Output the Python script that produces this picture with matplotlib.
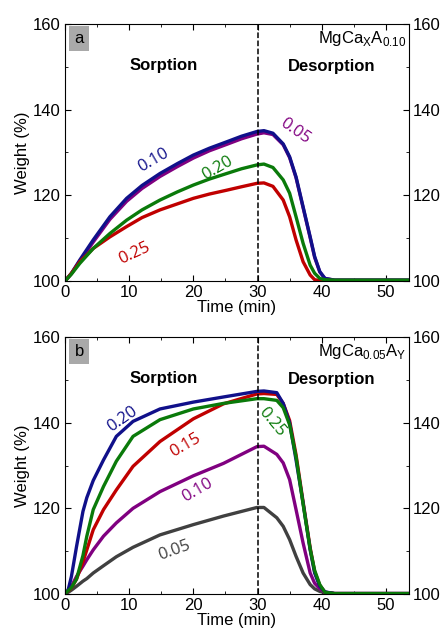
import matplotlib
matplotlib.use('Agg')
import matplotlib.pyplot as plt
from matplotlib.ticker import MultipleLocator

plt.rcParams['font.family'] = ['Liberation Sans', 'DejaVu Sans']

# panel a: MgCa_X A_0.10  (time in min, weight in %)
A_X = [0, 1, 2.3, 4.4, 7, 9.6, 12, 14.8, 17.5, 20, 22.5, 25.2, 27.5, 29.9, 31, 32.4,
       34, 35, 36, 37.1, 38.2, 38.9, 39.7, 40.5, 42, 54]
A_010 = [100, 101.8, 104.9, 109.6, 115.0, 119.3, 122.3, 125.1, 127.4, 129.4, 131.0, 132.5, 133.8, 134.9, 135.1, 134.5,
         132.0, 129.0, 124.3, 117.3, 110.3, 105.7, 102.2, 100.6, 100.2, 100.2]
A_005 = [100, 101.7, 104.6, 109.1, 114.4, 118.6, 121.6, 124.4, 126.7, 128.7, 130.4, 131.9, 133.2, 134.3, 134.6, 134.2,
         131.8, 128.8, 124.1, 117.1, 110.1, 105.5, 102.1, 100.6, 100.2, 100.2]
A_020 = [100, 101.6, 104.1, 107.6, 111.1, 114.2, 116.6, 118.9, 120.8, 122.4, 123.8, 125.1, 126.2, 127.1, 127.3, 126.5,
         123.6, 120.5, 115.0, 108.8, 103.7, 101.8, 100.6, 100.3, 100.2, 100.2]
A_025 = [100, 101.8, 104.5, 107.6, 110.3, 112.7, 114.8, 116.6, 118.0, 119.3, 120.3, 121.2, 122.0, 122.8, 122.9, 122.1,
         118.9, 115.0, 109.6, 104.5, 101.4, 100.3, 100.1, 100.1, 100.1, 100.1]

# panel b: MgCa_0.05 A_Y
B_X = [0, 0.5, 1, 1.8, 2.8, 3.4, 4.4, 6, 8, 10.6, 14.8, 20, 24.7, 29.9, 31, 33,
       34, 35, 36, 37.1, 38.2, 38.9, 39.7, 40.5, 42, 54]
B_020 = [100, 101.0, 104.1, 111.1, 119.3, 122.5, 126.5, 131.3, 136.8, 140.3, 143.2, 144.8, 146.0, 147.3, 147.4, 147.0,
         144.5, 139.9, 131.3, 121.2, 110.3, 104.9, 101.8, 100.5, 100.1, 100.1]
B_025 = [100, 100.8, 101.5, 103.5, 109.0, 113.5, 119.7, 125.1, 131.0, 136.8, 140.7, 143.2, 144.5, 145.6, 145.6, 145.2,
         143.5, 139.5, 132.0, 121.0, 110.5, 105.5, 102.2, 100.4, 100.1, 100.1]
B_015 = [100, 100.7, 101.4, 103.5, 107.5, 110.3, 115.0, 119.7, 124.3, 129.8, 135.6, 140.9, 144.4, 146.7, 146.8, 146.6,
         144.5, 140.5, 132.5, 121.5, 110.8, 105.2, 102.0, 100.4, 100.1, 100.1]
B_010 = [100, 100.8, 101.8, 104.1, 106.5, 108.0, 110.3, 113.5, 116.6, 120.0, 123.9, 127.6, 130.5, 134.4, 134.5, 132.6,
         130.6, 126.7, 119.7, 111.9, 104.9, 102.5, 101.2, 100.4, 100.1, 100.1]
B_005 = [100, 100.4, 100.9, 101.8, 103.0, 103.6, 104.9, 106.6, 108.7, 110.9, 113.8, 116.2, 118.2, 120.2, 120.2, 117.8,
         115.8, 112.7, 108.8, 104.9, 102.2, 101.2, 100.6, 100.3, 100.1, 100.1]

NAVY = '#10108a'
PURPLE = '#800080'
GREEN = '#0a7a0a'
RED = '#c00000'
GRAY = '#404040'

fig = plt.figure(figsize=(4.45, 6.35), dpi=100)
ax_a = fig.add_axes([65 / 445, 1 - 281 / 635, 344 / 445, 257 / 635])
ax_b = fig.add_axes([65 / 445, 1 - 594 / 635, 344 / 445, 257 / 635])

lw = 2.4
ax_a.plot(A_X, A_005, color=PURPLE, lw=lw)
ax_a.plot(A_X, A_010, color=NAVY, lw=lw)
ax_a.plot(A_X, A_025, color=RED, lw=lw)
ax_a.plot(A_X, A_020, color=GREEN, lw=lw)

ax_b.plot(B_X, B_005, color=GRAY, lw=lw)
ax_b.plot(B_X, B_010, color=PURPLE, lw=lw)
ax_b.plot(B_X, B_015, color=RED, lw=lw)
ax_b.plot(B_X, B_020, color=NAVY, lw=lw)
ax_b.plot(B_X, B_025, color=GREEN, lw=lw)

lab_font = ['Open Sans', 'DejaVu Sans']
fs = 12
ax_a.text(13.7, 128.2, '0.10', color=NAVY, rotation=30, ha='center', va='center', fontsize=fs, family=lab_font)
ax_a.text(23.7, 126.4, '0.20', color=GREEN, rotation=30, ha='center', va='center', fontsize=fs, family=lab_font)
ax_a.text(10.8, 106.5, '0.25', color=RED, rotation=25, ha='center', va='center', fontsize=fs, family=lab_font)
ax_a.text(35.8, 135.0, '0.05', color=PURPLE, rotation=-35, ha='center', va='center', fontsize=fs, family=lab_font)

ax_b.text(8.9, 140.7, '0.20', color=NAVY, rotation=35, ha='center', va='center', fontsize=fs, family=lab_font)
ax_b.text(18.8, 134.8, '0.15', color=RED, rotation=30, ha='center', va='center', fontsize=fs, family=lab_font)
ax_b.text(32.2, 140.2, '0.25', color=GREEN, rotation=-50, ha='center', va='center', fontsize=fs, family=lab_font)
ax_b.text(20.6, 124.3, '0.10', color=PURPLE, rotation=30, ha='center', va='center', fontsize=fs, family=lab_font)
ax_b.text(17.0, 110.1, '0.05', color=GRAY, rotation=20, ha='center', va='center', fontsize=fs, family=lab_font)

for ax, letter, formula in [(ax_a, 'a', r'MgCa$_\mathregular{X}$A$_\mathregular{0.10}$'),
                            (ax_b, 'b', r'MgCa$_\mathregular{0.05}$A$_\mathregular{Y}$')]:
    ax.axvline(30, color='black', ls='--', lw=1.1)
    ax.set_xlim(0, 53.6)
    ax.set_ylim(100, 160)
    ax.xaxis.set_major_locator(MultipleLocator(10))
    ax.xaxis.set_minor_locator(MultipleLocator(5))
    ax.yaxis.set_major_locator(MultipleLocator(20))
    ax.yaxis.set_minor_locator(MultipleLocator(10))
    ax.tick_params(which='both', direction='in', top=True, right=True, labelright=True, labelsize=12, pad=3)
    ax.tick_params(which='major', length=4)
    ax.tick_params(which='minor', length=2.5)
    ax.set_xlabel('Time (min)', fontsize=12, labelpad=0)
    ax.set_ylabel('Weight (%)', fontsize=12, labelpad=2)
    ax.text(15.4, 150.2, 'Sorption', fontsize=12, fontweight='bold', ha='center', va='center')
    ax.text(41.6, 150.0, 'Desorption', fontsize=12, fontweight='bold', ha='center', va='center')
    ax.text(53.2, 156.5, formula, fontsize=12, ha='right', va='center')
    ax.text(2.2, 156.7, letter, fontsize=12, ha='center', va='center',
            bbox=dict(boxstyle='square,pad=0.3', fc='#a9a9a9', ec='none'))

fig.savefig('out.png', dpi=100)
